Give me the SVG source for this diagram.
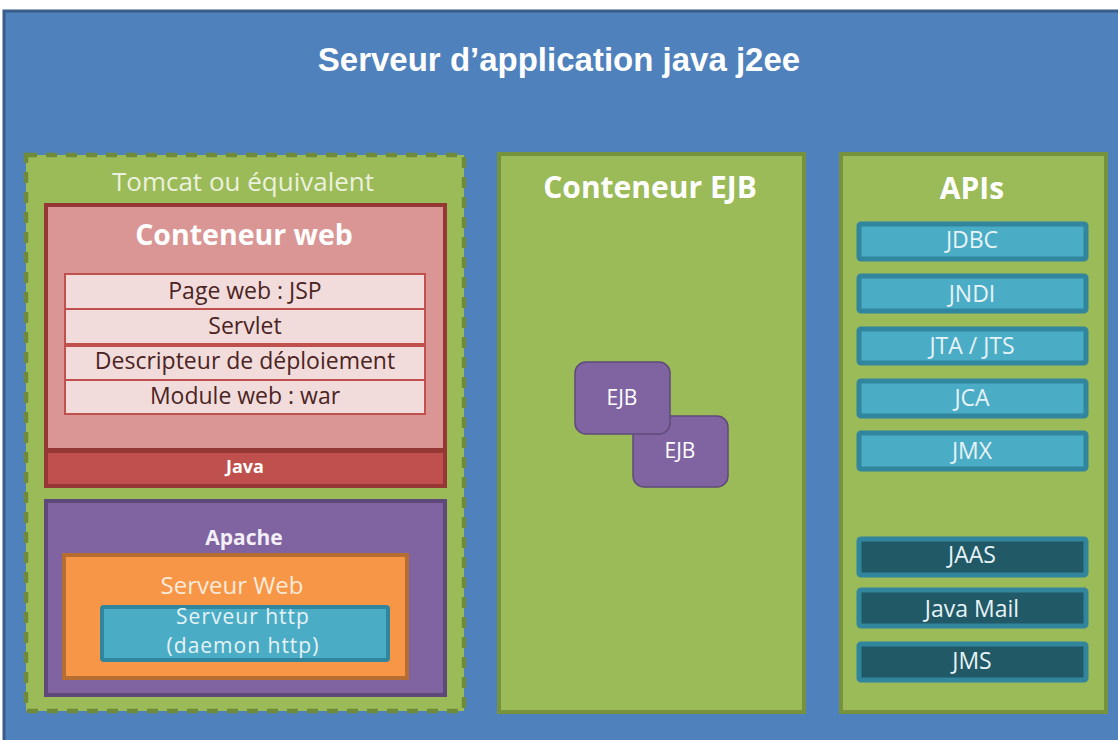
<svg xmlns="http://www.w3.org/2000/svg" width="1118" height="740" viewBox="0 0 1118 740">
<style>
.t{font-family:"Open Sans",Lato,"Liberation Sans",sans-serif;text-anchor:middle}
.b{font-weight:bold}
.api{fill:#4bacc6;stroke:#31859c;stroke-width:5}
.api2{fill:#215967;stroke:#31859c;stroke-width:5}
.apit{font-family:"Open Sans",Lato,"Liberation Sans",sans-serif;text-anchor:middle;font-size:23px;fill:#e6f3f7}
.row{fill:#f2dcdb;stroke:#c0504d;stroke-width:2}
.rowt{font-family:"Open Sans",Lato,"Liberation Sans",sans-serif;text-anchor:middle;font-size:23px;fill:#4a2423}
.ejb{fill:#8064a2;stroke:#5f497a;stroke-width:1.5}
</style>
<rect width="1118" height="740" fill="#ffffff"/>
<g id="server">
<rect x="4" y="11" width="1130" height="740" fill="#4f81bd" stroke="#385d8a" stroke-width="3"/>
<text x="559" y="71" font-family="'Liberation Sans',Arial,sans-serif" font-size="33" font-weight="bold" fill="#ffffff" text-anchor="middle">Serveur d’application java j2ee</text>
</g>
<g id="tomcat">
<rect x="26" y="155" width="438" height="556" fill="#9bbb59" stroke="#6f8a3a" stroke-width="4.5" stroke-dasharray="11,9"/>
<text class="t" x="243" y="191" font-size="26" fill="#ebf1de">Tomcat ou équivalent</text>
</g>
<g id="conteneur-web">
<rect x="46" y="205" width="399" height="245" fill="#d99694" stroke="#953735" stroke-width="4"/>
<text class="t b" x="244" y="245" font-size="28.5" fill="#ffffff">Conteneur web</text>
</g>
<g id="jsp"><rect class="row" x="65" y="274" width="360" height="35"/><text class="rowt" x="245" y="299">Page web : JSP</text></g>
<g id="servlet"><rect class="row" x="65" y="309" width="360" height="35"/><text class="rowt" x="245" y="334">Servlet</text></g>
<g id="descripteur"><rect class="row" x="65" y="346" width="360" height="34"/><text class="rowt" x="245" y="369">Descripteur de déploiement</text></g>
<g id="module"><rect class="row" x="65" y="380" width="360" height="34"/><text class="rowt" x="245" y="404">Module web  : war</text></g>
<g id="java">
<rect x="46" y="451" width="399" height="35" fill="#c0504d" stroke="#953735" stroke-width="4"/>
<text class="t b" x="245" y="473" font-size="18" fill="#ffffff">Java</text>
</g>
<g id="apache">
<rect x="46" y="501" width="399" height="194" fill="#8064a2" stroke="#5f497a" stroke-width="4"/>
<text class="t b" x="244" y="545" font-size="21" fill="#f2eff6">Apache</text>
</g>
<g id="serveur-web">
<rect x="64" y="555" width="343" height="123" fill="#f79646" stroke="#b66d31" stroke-width="4"/>
<text class="t" x="232" y="594" font-size="24" fill="#fdeada">Serveur Web</text>
</g>
<g id="serveur-http">
<rect x="102" y="607" width="286" height="53" rx="2" fill="#4bacc6" stroke="#31859c" stroke-width="4"/>
<text class="t" x="243" y="624" font-size="21" letter-spacing="1" fill="#e6f3f7">Serveur http</text>
<text class="t" x="243" y="653" font-size="21" letter-spacing="1" fill="#e6f3f7">(daemon http)</text>
</g>
<g id="conteneur-ejb">
<rect x="499" y="154" width="305" height="558" fill="#9bbb59" stroke="#76923c" stroke-width="4"/>
<text class="t b" x="650" y="198" font-size="30" fill="#ffffff">Conteneur EJB</text>
</g>
<g id="ejb2"><rect class="ejb" x="633" y="416" width="95" height="71" rx="11"/><text class="t" x="680" y="458" font-size="21" fill="#ffffff">EJB</text></g>
<g id="ejb1"><rect class="ejb" x="575" y="362" width="95" height="72" rx="11"/><text class="t" x="622" y="405" font-size="21" fill="#ffffff">EJB</text></g>
<g id="apis">
<rect x="841" y="154" width="265" height="558" fill="#9bbb59" stroke="#76923c" stroke-width="4"/>
<text class="t b" x="972" y="199" font-size="30" fill="#ffffff">APIs</text>
</g>
<g id="jdbc"><rect class="api" x="859" y="224" width="227" height="35" rx="2"/><text class="apit" x="972" y="248">JDBC</text></g>
<g id="jndi"><rect class="api" x="859" y="276" width="227" height="35" rx="2"/><text class="apit" x="972" y="302">JNDI</text></g>
<g id="jta"><rect class="api" x="859" y="329" width="227" height="34" rx="2"/><text class="apit" x="972" y="354">JTA / JTS</text></g>
<g id="jca"><rect class="api" x="859" y="381" width="227" height="35" rx="2"/><text class="apit" x="972" y="406">JCA</text></g>
<g id="jmx"><rect class="api" x="859" y="433" width="227" height="36" rx="2"/><text class="apit" x="972" y="459">JMX</text></g>
<g id="jaas"><rect class="api2" x="859" y="539" width="227" height="36" rx="2"/><text class="apit" x="972" y="563">JAAS</text></g>
<g id="javamail"><rect class="api2" x="859" y="590" width="227" height="36" rx="2"/><text class="apit" x="972" y="617">Java Mail</text></g>
<g id="jms"><rect class="api2" x="859" y="644" width="227" height="36" rx="2"/><text class="apit" x="972" y="669">JMS</text></g>
<g id="connectors"/>
</svg>
